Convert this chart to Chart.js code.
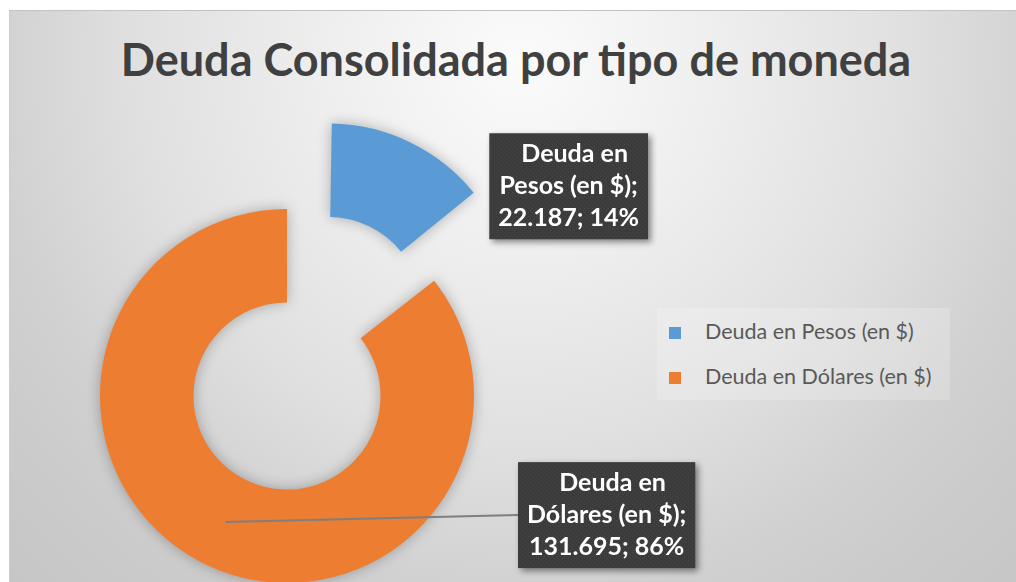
<!DOCTYPE html>
<html>
<head>
<meta charset="utf-8">
<script src="https://cdn.jsdelivr.net/npm/chart.js@4.4.1/dist/chart.umd.min.js"></script>
<style>
  html, body { margin: 0; padding: 0; background: #fff; overflow: hidden; }
  #wrap { position: relative; width: 1016px; height: 582px; }
  #panel {
    position: absolute; left: 9px; top: 10px; right: 0; bottom: 0;
    border-top: 1px solid #c2c2c2; border-left: 1px solid #cdcdcd;
    background: radial-gradient(circle 730px at 511px 50px, #fbfbfb 0px, #eeeeee 200px, #e0e0e0 385px,
      #d1d1d1 530px, #cbcbcb 620px, #c6c6c6 730px);
  }
  #title {
    position: absolute; left: 0; top: 33px; width: 1032px;
    text-align: center; white-space: nowrap;
    font: bold 45px Lato; line-height: 52px; color: #404040;
  }
  #legend {
    position: absolute; left: 657px; top: 308px; width: 293px; height: 92px;
    background: rgba(255, 255, 255, 0.2);
  }
  #legend div { position: relative; height: 45px; line-height: 45px; padding-left: 48px;
    font: 21.5px Lato; color: #595959; white-space: nowrap; }
  #legend div:first-child { margin-top: 10px; }
  #legend span { position: absolute; left: 12px; top: 9px; width: 12px; height: 12px; }
  canvas { position: absolute; left: 0; top: 0; }
</style>
</head>
<body>
<div id="wrap">
  <div id="panel"></div>
  <div id="title">Deuda Consolidada por tipo de moneda</div>
  <div id="legend"></div>
  <canvas id="myChart" width="1016" height="582"></canvas>
</div>
<script>
// datos del gráfico
var labels = ["Deuda en Pesos (en $)", "Deuda en Dólares (en $)"];
var values = [22187, 131695];
var colors = ["#5B9BD5", "#ED7D31"];

// ubicación de las etiquetas (centro de la caja respecto al centroide del sector)
var labelShift = [[146, 69], [381, -7]];
var labelLeader = [false, true];

function fmt(n) {
  return String(n).replace(/\B(?=(\d{3})+(?!\d))/g, ".");
}

// fondo punteado de las etiquetas
var pat = document.createElement("canvas");
pat.width = 4; pat.height = 4;
var pc = pat.getContext("2d");
pc.fillStyle = "#3b3b3b"; pc.fillRect(0, 0, 4, 4);
pc.fillStyle = "#484848"; pc.fillRect(0, 0, 1, 1); pc.fillRect(2, 2, 1, 1);

// el sector separado no debe crecer: Chart.js agranda el radio del arco desplazado
var keepRadius = {
  id: "keepRadius",
  afterDatasetUpdate: function(chart, args) {
    args.meta.data.forEach(function(arc) {
      var off = (arc.options.offset || 0) / 4;
      if (!off) return;
      var fix = 1 - Math.sin(Math.min(Math.PI, arc.circumference));
      arc.innerRadius -= off * fix;
      arc.outerRadius -= off * fix;
    });
  }
};

// sombra suave del anillo
var shadowPlugin = {
  id: "ringShadow",
  beforeDatasetDraw: function(chart) {
    var ctx = chart.ctx;
    ctx.save();
    ctx.shadowColor = "rgba(0, 0, 0, 0.28)";
    ctx.shadowBlur = 14;
  },
  afterDatasetDraw: function(chart) {
    chart.ctx.restore();
  }
};

// etiquetas de datos estilo Excel
var labelPlugin = {
  id: "dataBoxes",
  afterDatasetsDraw: function(chart) {
    var ctx = chart.ctx;
    var arcs = chart.getDatasetMeta(0).data;
    var total = values.reduce(function(a, b) { return a + b; }, 0);
    ctx.save();
    ctx.font = "bold 25px Lato";
    arcs.forEach(function(arc, i) {
      var words = labels[i].split(" ");
      var lines = [
        words.slice(0, 2).join(" "),
        words.slice(2).join(" ") + ";",
        fmt(values[i]) + "; " + Math.round(values[i] / total * 100) + "%"
      ];
      var w = 0;
      lines.forEach(function(l) { w = Math.max(w, ctx.measureText(l).width); });
      var bw = w + 18, bh = 106, lh = 32;
      var p = arc.tooltipPosition();
      var cx = p.x + labelShift[i][0], cy = p.y + labelShift[i][1];
      var left = cx - bw / 2, top = cy - bh / 2;

      if (labelLeader[i]) {
        ctx.strokeStyle = "#7f7f7f";
        ctx.lineWidth = 2;
        ctx.beginPath();
        ctx.moveTo(p.x, p.y);
        ctx.lineTo(left, cy);
        ctx.stroke();
      }

      ctx.save();
      ctx.shadowColor = "rgba(0, 0, 0, 0.45)";
      ctx.shadowBlur = 6;
      ctx.shadowOffsetX = 3;
      ctx.shadowOffsetY = 3;
      ctx.fillStyle = ctx.createPattern(pat, "repeat");
      ctx.fillRect(left, top, bw, bh);
      ctx.restore();

      ctx.fillStyle = "#ffffff";
      ctx.textAlign = "center";
      ctx.textBaseline = "middle";
      lines.forEach(function(l, k) {
        // en Excel la primera línea queda algo corrida a la derecha
        var dx = k === 0 ? 6 : 0;
        ctx.fillText(l, cx + dx, top + 5 + lh / 2 + k * lh);
      });
    });
    ctx.restore();
  }
};

// leyenda en HTML a partir de los datos del gráfico
var htmlLegend = {
  id: "htmlLegend",
  afterUpdate: function(chart) {
    var box = document.getElementById("legend");
    box.innerHTML = "";
    chart.data.labels.forEach(function(l, i) {
      var row = document.createElement("div");
      var mark = document.createElement("span");
      mark.style.background = chart.data.datasets[0].backgroundColor[i];
      row.appendChild(mark);
      row.appendChild(document.createTextNode(l));
      box.appendChild(row);
    });
  }
};

function draw() {
  new Chart(document.getElementById("myChart"), {
    type: "doughnut",
    data: {
      labels: labels,
      datasets: [{
        data: values,
        backgroundColor: colors,
        borderWidth: 0,
        offset: [380, 0]
      }]
    },
    options: {
      responsive: false,
      animation: false,
      events: [],
      radius: 187,
      cutout: "50%",
      layout: { padding: { left: 0, right: 442, top: 210, bottom: 0 } },
      plugins: {
        legend: { display: false },
        tooltip: { enabled: false }
      }
    },
    plugins: [keepRadius, shadowPlugin, labelPlugin, htmlLegend]
  });
}

Promise.all([
  document.fonts.load("bold 25px Lato"),
  document.fonts.load("21.5px Lato"),
  document.fonts.load("bold 45px Lato")
]).then(draw, draw);
</script>
</body>
</html>
